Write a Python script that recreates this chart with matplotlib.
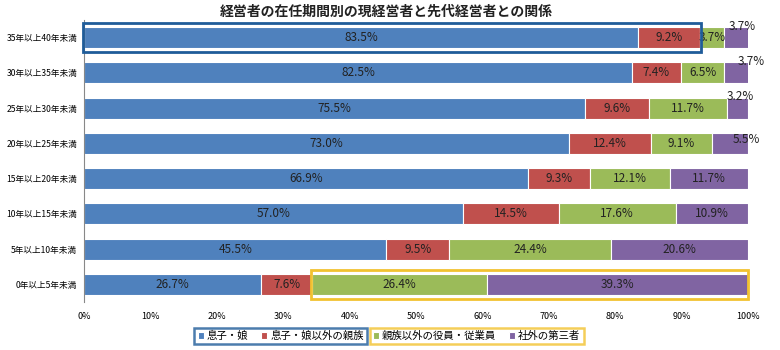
import matplotlib
matplotlib.use("Agg")
import matplotlib.pyplot as plt
from matplotlib.patches import Rectangle
import numpy as np

plt.rcParams['font.family'] = ['Noto Sans CJK JP', 'DejaVu Sans']

title = "経営者の在任期間別の現経営者と先代経営者との関係"
categories = ["35年以上40年未満", "30年以上35年未満", "25年以上30年未満", "20年以上25年未満",
              "15年以上20年未満", "10年以上15年未満", "5年以上10年未満", "0年以上5年未満"]
series_names = ["息子・娘", "息子・娘以外の親族", "親族以外の役員・従業員", "社外の第三者"]
son_daughter = [83.5, 82.5, 75.5, 73.0, 66.9, 57.0, 45.5, 26.7]
other_relatives = [9.2, 7.4, 9.6, 12.4, 9.3, 14.5, 9.5, 7.6]
employees = [3.7, 6.5, 11.7, 9.1, 12.1, 17.6, 24.4, 26.4]
third_party = [3.7, 3.7, 3.2, 5.5, 11.7, 10.9, 20.6, 39.3]
x_ticks = [0, 10, 20, 30, 40, 50, 60, 70, 80, 90, 100]

colors = ["#4F81BD", "#C0504D", "#9BBB59", "#8064A2"]
series = [son_daughter, other_relatives, employees, third_party]
# label offsets (points) for small third-party labels placed outside the bars
small_offsets = {0: (4, 8), 1: (11, 8), 2: (2, 8), 3: (12, 3)}

fig = plt.figure(figsize=(7.8, 3.5), dpi=100)
ax = fig.add_axes([0.108, 0.137, 0.851, 0.806])

y = np.arange(len(categories))
left = np.zeros(len(categories))
bar_h = 0.6
lab_fs = 8.5
for si, (vals, col, name) in enumerate(zip(series, colors, series_names)):
    vals = np.array(vals)
    ax.barh(y, vals, left=left, height=bar_h, color=col, label=name, edgecolor='white', linewidth=0.8)
    for i, v in enumerate(vals):
        cx = left[i] + v / 2
        if si == 3 and i in small_offsets:
            ax.annotate(f"{v:.1f}%", xy=(cx, y[i]), xytext=small_offsets[i],
                        textcoords='offset points', ha='center', va='center', fontsize=lab_fs,
                        color='#222222', annotation_clip=False, zorder=6)
        else:
            ax.text(cx, y[i], f"{v:.1f}%", ha='center', va='center', fontsize=lab_fs, color='#222222')
    left = left + vals

ax.set_ylim(len(categories) - 0.5, -0.5)
ax.set_xlim(0, 100)
ax.set_yticks(y)
ax.set_yticklabels(categories, fontsize=6.2)
ax.set_xticks(x_ticks)
ax.set_xticklabels([f"{t}%" for t in x_ticks], fontsize=6.5)
ax.tick_params(axis='y', length=0, pad=5)
ax.tick_params(axis='x', length=0, pad=7)
for s in ['top', 'right', 'bottom']:
    ax.spines[s].set_visible(False)
ax.spines['left'].set_color('#888888')
ax.spines['left'].set_linewidth(0.8)

# highlight boxes
b0 = son_daughter[0] + other_relatives[0]
ax.add_patch(Rectangle((-0.2, 0 - 0.4), b0 + 0.4, 0.8, fill=False, edgecolor='#1F5C99',
                       linewidth=2, clip_on=False, zorder=5))
last = len(categories) - 1
s0 = son_daughter[last] + other_relatives[last]
ax.add_patch(Rectangle((s0 - 0.2, last - 0.4), 100 - s0 + 0.2, 0.8, fill=False, edgecolor='#F2C230',
                       linewidth=2, clip_on=False, zorder=5))

fig.text(0.495, 0.967, title, ha='center', va='center', fontsize=10, fontweight='bold', color='#222222')

# legend with two boxed groups
h, l = ax.get_legend_handles_labels()
leg1 = fig.legend(h[:2], l[:2], loc='center', bbox_to_anchor=(0.36, 0.04), ncol=2, fontsize=7.5,
                  frameon=True, handlelength=0.6, handleheight=0.6, handletextpad=0.3, columnspacing=1.2,
                  borderpad=0.3, fancybox=False)
leg1.get_frame().set_edgecolor('#1F5C99')
leg1.get_frame().set_linewidth(1.8)
leg2 = fig.legend(h[2:], l[2:], loc='center', bbox_to_anchor=(0.611, 0.04), ncol=2, fontsize=7.5,
                  frameon=True, handlelength=0.6, handleheight=0.6, handletextpad=0.3, columnspacing=1.2,
                  borderpad=0.3, fancybox=False)
leg2.get_frame().set_edgecolor('#F2C230')
leg2.get_frame().set_linewidth(1.8)

fig.savefig("out.png", dpi=100)
